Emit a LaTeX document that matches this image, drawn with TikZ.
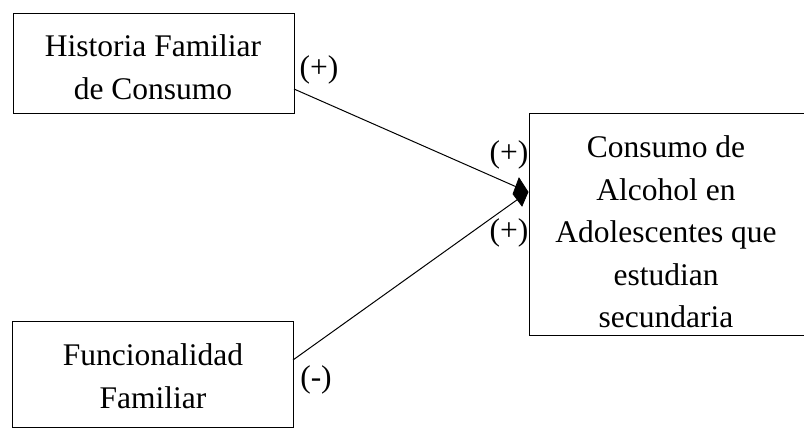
\documentclass[tikz,border=0pt]{standalone}
\usepackage{fontspec}
\setmainfont{Liberation Serif}
\begin{document}
\begin{tikzpicture}[x=1pt,y=-1pt,
  box/.style={draw, line width=1pt, inner sep=0pt},
  lbl/.style={font=\fontsize{31.5}{42.5}\selectfont, align=center, inner sep=0pt},
  sign/.style={font=\fontsize{31.5}{38}\selectfont, inner sep=0pt},
  conn/.style={line width=1pt},
  head/.style={fill=black, draw=black, line width=0.8pt, line join=miter}]
\useasboundingbox (0,0) rectangle (804,430);
\node[box, minimum width=281pt, minimum height=100pt] (hist) at (153.5,64) {};
\node[lbl] (histT) at (153,67) {Historia Familiar\\de Consumo};
\node[box, minimum width=281pt, minimum height=106pt] (func) at (152.5,375) {};
\node[lbl] (funcT) at (153,376) {Funcionalidad\\Familiar};
\node[box, minimum width=275pt, minimum height=222pt] (cons) at (666.5,225) {};
\node[lbl] (consT) at (666,232) {Consumo de\\Alcohol en\\Adolescentes que\\estudian\\secundaria};
\coordinate (s1) at (294,89);
\coordinate (s2) at (293,360);
\coordinate (tip) at (528,192);
\draw[conn] (s1) -- (tip);
\draw[conn] (s2) -- (tip);
\filldraw[head] (tip) -- ++(-9,-14) -- ++(-6,16) -- ++(9,12) -- cycle;
\node[sign] (p1) at (319,70) {(+)};
\node[sign] (p2) at (509,155) {(+)};
\node[sign] (p3) at (509,233) {(+)};
\node[sign] (m1) at (316,380) {(-)};
\end{tikzpicture}
\end{document}
